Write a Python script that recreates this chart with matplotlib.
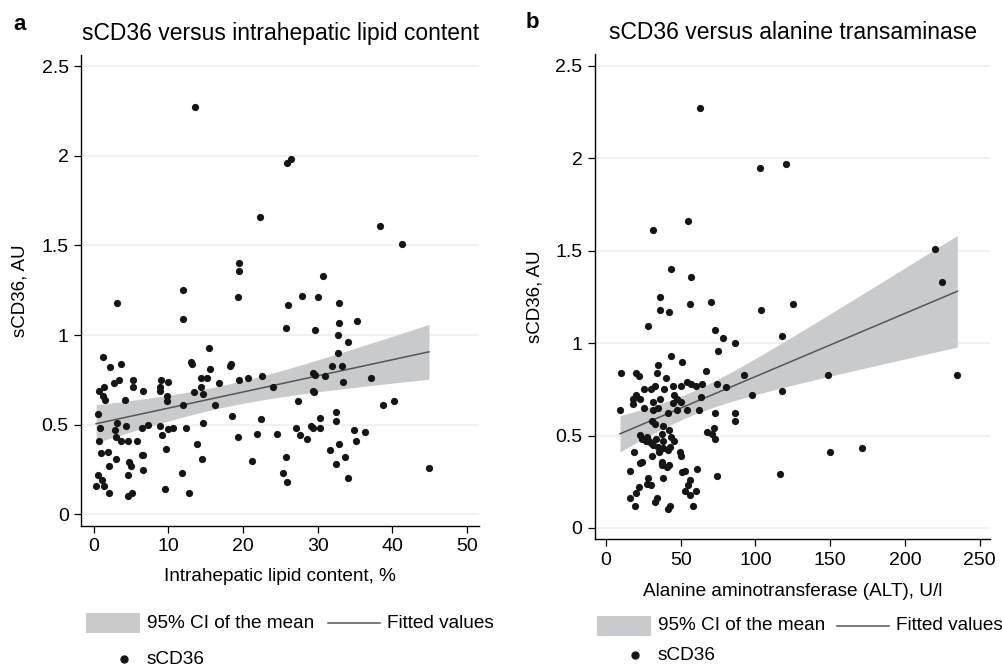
import numpy as np
import matplotlib
matplotlib.use('Agg')
from matplotlib import pyplot as plt
from matplotlib.patches import Rectangle
from matplotlib.lines import Line2D

plt.rcParams['font.family'] = ['Liberation Sans', 'DejaVu Sans']

# panel a: intrahepatic lipid content (%) vs sCD36 (AU)
ihl_pct = [
    13.5, 25.9, 26.4, 22.2, 38.3, 41.3, 19.4, 19.4, 30.7, 12.0,
    27.9, 19.3, 30.1, 3.1, 32.8, 26.0, 11.9, 35.2, 32.9, 25.8,
    29.6, 32.7, 34.0, 15.4, 32.7, 1.26, 3.66, 2.23, 13.0, 13.1,
    18.4, 18.3, 31.9, 33.3, 15.6, 29.3, 29.6, 31.0, 22.5, 37.1,
    14.4, 15.2, 20.6, 3.4, 5.3, 9.05, 19.5, 10.0, 33.4, 16.8,
    2.67, 1.43, 5.3, 8.9, 14.3, 24.0, 0.76, 6.6, 8.9, 29.3,
    13.4, 29.5, 14.6, 1.3, 9.85, 1.56, 4.2, 9.85, 27.4, 40.2,
    12.0, 16.2, 38.8, 32.4, 0.63, 18.5, 30.3, 22.4, 3.1, 14.6,
    32.4, 7.2, 4.37, 8.9, 29.1, 0.8, 6.5, 10.65, 12.3, 27.1,
    29.4, 30.3, 2.86, 9.9, 34.9, 36.3, 21.9, 24.6, 9.1, 27.6,
    3.0, 19.3, 0.76, 3.66, 4.64, 5.84, 35.1, 28.6, 13.8, 32.8,
    9.7, 31.7, 1.97, 0.99, 6.4, 6.6, 3.0, 14.5, 25.7, 33.7,
    21.2, 4.7, 5.0, 2.1, 32.5, 44.9, 6.55, 0.53, 4.6, 11.8,
    25.3, 34.1, 1.07, 0.32, 1.34, 25.9, 9.6, 2.1, 5.1, 12.75,
    4.6,
]
scd36_a = [
    2.27, 1.96, 1.98, 1.66, 1.61, 1.51, 1.40, 1.36, 1.33, 1.25,
    1.22, 1.21, 1.21, 1.18, 1.18, 1.17, 1.09, 1.08, 1.07, 1.04,
    1.03, 1.00, 0.96, 0.93, 0.90, 0.88, 0.84, 0.82, 0.85, 0.84,
    0.84, 0.83, 0.83, 0.83, 0.81, 0.79, 0.78, 0.77, 0.77, 0.76,
    0.76, 0.76, 0.76, 0.75, 0.75, 0.75, 0.75, 0.74, 0.74, 0.735,
    0.73, 0.71, 0.71, 0.71, 0.71, 0.71, 0.69, 0.69, 0.69, 0.69,
    0.68, 0.68, 0.67, 0.66, 0.66, 0.64, 0.64, 0.63, 0.63, 0.63,
    0.61, 0.61, 0.61, 0.57, 0.56, 0.55, 0.54, 0.53, 0.51, 0.51,
    0.52, 0.50, 0.49, 0.49, 0.49, 0.48, 0.48, 0.48, 0.48, 0.48,
    0.48, 0.48, 0.47, 0.475, 0.47, 0.46, 0.45, 0.45, 0.44, 0.44,
    0.43, 0.43, 0.41, 0.41, 0.41, 0.41, 0.41, 0.42, 0.395, 0.39,
    0.365, 0.36, 0.35, 0.34, 0.33, 0.33, 0.31, 0.31, 0.32, 0.32,
    0.30, 0.29, 0.27, 0.27, 0.28, 0.26, 0.25, 0.22, 0.22, 0.23,
    0.23, 0.20, 0.19, 0.16, 0.16, 0.18, 0.14, 0.12, 0.12, 0.12,
    0.10,
]

# panel b: ALT (U/l) vs sCD36 (AU)
alt_ul = [
    63.1, 103, 120.3, 55.1, 31.2, 220, 43.3, 57.1, 225, 36.1,
    56, 70.3, 125, 36.1, 41.9, 104, 28.1, 73, 118, 78.1,
    86.1, 75, 43.3, 50.9, 35, 10.0, 19.8, 34.1, 67.2, 22,
    92.2, 148.2, 235, 40.2, 54.4, 56.7, 60.2, 64.2, 74, 80.1,
    25.4, 29.9, 32.8, 39, 44.6, 50, 118, 20.1, 18.3, 23,
    45.7, 47.5, 50.2, 36.4, 63.4, 98, 31.2, 35, 18.3, 25.4,
    45, 9.4, 31.2, 47.3, 54.4, 62, 41.3, 73, 86.1, 86.1,
    31, 32.8, 38.4, 42.2, 72.5, 67.4, 70.9, 73.2, 22.8, 23.9,
    27.2, 30.4, 33.3, 31.6, 34.6, 29, 26.5, 37.5, 38.4, 43.5,
    45.2, 43.0, 41.3, 35.7, 38.4, 19, 31, 49.5, 50, 37.3,
    37.3, 40.6, 42, 23, 23.9, 16.3, 51, 52.8, 61.1, 38.4,
    74, 116.5, 150, 171.1, 28.3, 27.2, 30.1, 22, 20.4, 56.2,
    54.7, 52.8, 56.2, 60.2, 16.1, 19.2, 34, 32.8, 42.8, 41.7,
    58.5,
]
scd36_b = [
    2.27, 1.95, 1.97, 1.66, 1.61, 1.51, 1.40, 1.36, 1.33, 1.25,
    1.21, 1.22, 1.21, 1.18, 1.17, 1.18, 1.09, 1.07, 1.04, 1.03,
    1.00, 0.96, 0.93, 0.90, 0.88, 0.84, 0.84, 0.84, 0.85, 0.82,
    0.83, 0.83, 0.83, 0.81, 0.79, 0.78, 0.77, 0.78, 0.78, 0.76,
    0.75, 0.75, 0.77, 0.75, 0.77, 0.77, 0.74, 0.72, 0.70, 0.70,
    0.72, 0.70, 0.68, 0.70, 0.71, 0.72, 0.68, 0.65, 0.67, 0.65,
    0.675, 0.64, 0.64, 0.64, 0.64, 0.64, 0.62, 0.62, 0.62, 0.58,
    0.58, 0.56, 0.55, 0.53, 0.54, 0.52, 0.51, 0.48, 0.505, 0.48,
    0.49, 0.46, 0.48, 0.45, 0.44, 0.47, 0.47, 0.51, 0.47, 0.49,
    0.47, 0.44, 0.42, 0.41, 0.435, 0.41, 0.39, 0.41, 0.39, 0.355,
    0.34, 0.33, 0.34, 0.35, 0.355, 0.31, 0.30, 0.31, 0.32, 0.27,
    0.28, 0.29, 0.41, 0.43, 0.27, 0.24, 0.23, 0.22, 0.19, 0.26,
    0.23, 0.20, 0.18, 0.20, 0.16, 0.12, 0.16, 0.14, 0.12, 0.10,
    0.12,
]

y_ticks = [0, 0.5, 1, 1.5, 2, 2.5]
y_ticklabels = ['0', '0.5', '1', '1.5', '2', '2.5']
xticks_a = [0, 10, 20, 30, 40, 50]
xticks_b = [0, 50, 100, 150, 200, 250]
legend_labels = ['95% CI of the mean', 'Fitted values', 'sCD36']

BAND = '#c9cacc'
FITC = '#555555'
DOT = '#151515'
W, H = 1003, 667


def fit_ci(x, y, npts=200, t=1.976):
    """ linear fit with 95% CI of the mean (like stata lfitci) """
    x = np.asarray(x, float)
    y = np.asarray(y, float)
    slope, icpt = np.polyfit(x, y, 1)
    xs = np.linspace(x.min(), x.max(), npts)
    yhat = icpt + slope * xs
    resid = y - (icpt + slope * x)
    s = np.sqrt(np.sum(resid ** 2) / (len(x) - 2))
    sxx = np.sum((x - x.mean()) ** 2)
    se = s * np.sqrt(1.0 / len(x) + (xs - x.mean()) ** 2 / sxx)
    return xs, yhat, yhat - t * se, yhat + t * se


def draw_panel(ax, x, y, title, xlabel, xticks, xlim, ylim):
    xs, yhat, lo, hi = fit_ci(x, y)
    ax.fill_between(xs, lo, hi, color=BAND, lw=0, zorder=1)
    ax.plot(xs, yhat, color=FITC, lw=1.1, zorder=2)
    ax.scatter(x, y, s=27, color=DOT, lw=0, zorder=3)

    ax.set_xlim(*xlim)
    ax.set_ylim(*ylim)
    ax.set_xticks(xticks)
    ax.set_xticklabels([str(v) for v in xticks])
    ax.set_yticks(y_ticks)
    ax.set_yticklabels(y_ticklabels)
    ax.yaxis.grid(True, color='#f0f0f0', lw=1.3)
    ax.set_axisbelow(True)
    for side in ('top', 'right'):
        ax.spines[side].set_visible(False)
    for side in ('left', 'bottom'):
        ax.spines[side].set_linewidth(1.0)
    ax.tick_params(labelsize=14, length=5, width=0.9, pad=4)
    ax.set_title(title, fontsize=16.5, pad=11)
    ax.set_xlabel(xlabel, fontsize=13.7, va='center')
    ax.set_ylabel('sCD36, AU', fontsize=13.5, va='center')


def draw_legend(fig, left, row1, row2, line_left):
    """ stata style key below a panel, positions in pixels from top-left """
    fx = lambda px: px / W
    fy = lambda py: 1 - py / H
    fig.add_artist(Rectangle((fx(left), fy(row1 + 10)), 54 / W, 20 / H,
                             color=BAND, lw=0, transform=fig.transFigure))
    fig.text(fx(left + 61), fy(row1), legend_labels[0], fontsize=13.7,
             va='center', ha='left')
    fig.add_artist(Line2D([fx(line_left), fx(line_left + 52)],
                          [fy(row1), fy(row1)], color=FITC, lw=1.1,
                          transform=fig.transFigure))
    fig.text(fx(line_left + 59), fy(row1), legend_labels[1], fontsize=13.7,
             va='center', ha='left')
    fig.add_artist(Line2D([fx(left + 38)], [fy(row2)], ls='none', marker='o',
                          ms=5, color=DOT, transform=fig.transFigure))
    fig.text(fx(left + 61), fy(row2), legend_labels[2], fontsize=13.7,
             va='center', ha='left')


fig = plt.figure(figsize=(10.03, 6.67), dpi=100)

ax_a = fig.add_axes([0.0811, 0.2114, 0.3965, 0.7061])
draw_panel(ax_a, ihl_pct, scd36_a,
           'sCD36 versus intrahepatic lipid content',
           'Intrahepatic lipid content, %', xticks_a,
           (-1.66, 51.6), (-0.065, 2.562))
ax_a.xaxis.set_label_coords(0.5, -0.108)
ax_a.yaxis.set_label_coords(-0.154, 0.5)
draw_legend(fig, 86, 623, 659, 328)

ax_b = fig.add_axes([0.5932, 0.1919, 0.394, 0.7267])
draw_panel(ax_b, alt_ul, scd36_b,
           'sCD36 versus alanine transaminase',
           'Alanine aminotransferase (ALT), U/l', xticks_b,
           (-7.36, 257), (-0.06, 2.563))
ax_b.xaxis.set_label_coords(0.5, -0.1087)
ax_b.yaxis.set_label_coords(-0.152, 0.5)
draw_legend(fig, 597, 626, 655, 837)

fig.text(20 / W, 1 - 25 / H, 'a', fontsize=16, weight='bold',
         ha='center', va='center')
fig.text(532 / W, 1 - 23 / H, 'b', fontsize=16, weight='bold',
         ha='center', va='center')

fig.savefig('out.png', dpi=100)
